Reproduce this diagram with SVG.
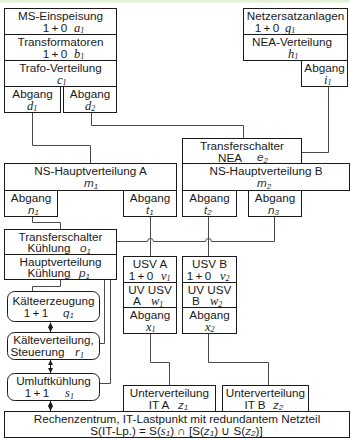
<svg xmlns="http://www.w3.org/2000/svg" width="350" height="439" viewBox="0 0 350 439">
  <style>
    .b { fill: #fff; stroke: #1a1a1a; stroke-width: 1; }
    .r { fill: #fff; stroke: #1a1a1a; stroke-width: 1; }
    .c { fill: none; stroke: #4a4a4a; stroke-width: 1; }
    .a { fill: none; stroke: #1a1a1a; stroke-width: 1; }
    text { font-family: "Liberation Sans", Arial, sans-serif; font-size: 11.7px; fill: #1a1a1a; text-anchor: middle; }
    text.st { text-anchor: start; }
    .n { word-spacing: -1px; }
    .v { font-family: "Liberation Serif", "Times New Roman", serif; font-style: italic; font-size: 12.5px; }
    .vs { font-family: "Liberation Sans", Arial, sans-serif; font-style: italic; font-size: 11.7px; fill: #333; }
    .s { font-size: 8px; font-style: italic; }
  </style>
  <defs>
    <marker id="ah" viewBox="0 0 6 6" refX="6" refY="3" markerWidth="5" markerHeight="5" markerUnits="userSpaceOnUse" orient="auto-start-reverse">
      <path d="M0,0 L6,3 L0,6 z" fill="#1a1a1a"/>
    </marker>
  </defs>

  <!-- top strip -->
  <rect x="0" y="0" width="350" height="2.5" fill="#e2f0d3"/>

  <!-- connectors -->
  <g id="connectors">
    <path class="c" d="M32.5,112.5 V145.5 H90.5 V163.5"/>
    <path class="c" d="M91.5,112.5 V125.5 H243.5 V138.5"/>
    <path class="c" d="M328.5,86.5 V152.5 H301.5"/>
    <path class="c" d="M32.5,216.5 V222.5 H60.5 V229.5"/>
    <path class="c" d="M150.5,216.5 V256.5"/>
    <path class="c" d="M208.5,216.5 V256.5"/>
    <path class="c" d="M274.5,216.5 V241.5 H211.5 A3,3 0 0 0 205.5,241.5 H153.5 A3,3 0 0 0 147.5,241.5 H116.5"/>
    <path class="c" d="M60.5,279.5 V286.5 H32.5 V291.5"/>
    <path class="c" d="M104.5,279.5 V343.5 H99.5"/>
    <path class="c" d="M110.5,279.5 V383.5 H99.5"/>
    <path class="c" d="M150.5,333.5 V362.5 H169.5 V385.5"/>
    <path class="c" d="M208.5,333.5 V362.5 H268.5 V385.5"/>
    <path class="a" d="M50.5,322.5 V332" marker-start="url(#ah)" marker-end="url(#ah)"/>
    <path class="a" d="M50.5,360 V373" marker-start="url(#ah)" marker-end="url(#ah)"/>
    <path class="a" d="M50.5,401 V411" marker-start="url(#ah)" marker-end="url(#ah)"/>
  </g>

  <!-- medium-voltage feed chain -->
  <g id="ms-einspeisung">
    <rect class="b" x="4.5" y="8.5" width="112" height="26"/>
    <text x="60.5" y="19.5">MS-Einspeisung</text>
    <text class="n" x="55" y="31.5">1 + 0</text>
    <text class="st v" x="74" y="31.5">a<tspan class="s" dy="1.5">1</tspan></text>
  </g>
  <g id="transformatoren">
    <rect class="b" x="4.5" y="34.5" width="112" height="26"/>
    <text x="60.5" y="45.5">Transformatoren</text>
    <text class="n" x="55" y="57.5">1 + 0</text>
    <text class="st v" x="74" y="57.5">b<tspan class="s" dy="1.5">1</tspan></text>
  </g>
  <g id="trafo-verteilung">
    <rect class="b" x="4.5" y="60.5" width="112" height="26"/>
    <text x="60.5" y="71.5">Trafo-Verteilung</text>
    <text class="st v" x="57" y="83.5">c<tspan class="s" dy="1.5">1</tspan></text>
  </g>
  <g id="abgang-d1">
    <rect class="b" x="4.5" y="86.5" width="56" height="26"/>
    <text x="32.5" y="97.5">Abgang</text>
    <text class="st v" x="27" y="109.5">d<tspan class="s" dy="1.5">1</tspan></text>
  </g>
  <g id="abgang-d2">
    <rect class="b" x="63.5" y="86.5" width="53" height="26"/>
    <text x="90" y="97.5">Abgang</text>
    <text class="st v" x="85" y="109.5">d<tspan class="s" dy="1.5">2</tspan></text>
  </g>

  <!-- standby generator chain -->
  <g id="netzersatzanlagen">
    <rect class="b" x="243.5" y="8.5" width="104" height="26"/>
    <text x="295.5" y="19.5">Netzersatzanlagen</text>
    <text class="n" x="267" y="31.5">1 + 0</text>
    <text class="st v" x="285" y="31.5">g<tspan class="s" dy="1.5">1</tspan></text>
  </g>
  <g id="nea-verteilung">
    <rect class="b" x="243.5" y="34.5" width="104" height="26"/>
    <text x="292" y="45.5">NEA-Verteilung</text>
    <text class="st v" x="288" y="57.5">h<tspan class="s" dy="1.5">1</tspan></text>
  </g>
  <g id="abgang-i1">
    <rect class="b" x="301.5" y="60.5" width="46" height="26"/>
    <text x="324.5" y="71.5">Abgang</text>
    <text class="st v" x="324" y="83.5">i<tspan class="s" dy="1.5">1</tspan></text>
  </g>
  <g id="transferschalter-nea">
    <rect class="b" x="182.5" y="138.5" width="119" height="25"/>
    <text x="242" y="149.5">Transferschalter</text>
    <text x="230" y="161.5">NEA</text>
    <text class="st vs" x="257" y="161">e<tspan class="s" dy="1.5">2</tspan></text>
  </g>

  <!-- low-voltage main distribution A -->
  <g id="ns-hauptverteilung-a">
    <rect class="b" x="4.5" y="163.5" width="172" height="27"/>
    <text x="90.5" y="175">NS-Hauptverteilung A</text>
    <text class="st vs" x="84" y="187">m<tspan class="s" dy="1.5">1</tspan></text>
  </g>
  <g id="abgang-n1">
    <rect class="b" x="4.5" y="190.5" width="53" height="26"/>
    <text x="31" y="201.5">Abgang</text>
    <text class="st vs" x="28" y="213.5">n<tspan class="s" dy="1.5">1</tspan></text>
  </g>
  <g id="abgang-t1">
    <rect class="b" x="123.5" y="190.5" width="53" height="26"/>
    <text x="150" y="201.5">Abgang</text>
    <text class="st vs" x="146" y="213.5">t<tspan class="s" dy="1.5">1</tspan></text>
  </g>

  <!-- low-voltage main distribution B -->
  <g id="ns-hauptverteilung-b">
    <rect class="b" x="182.5" y="163.5" width="167" height="27"/>
    <text x="266" y="175">NS-Hauptverteilung B</text>
    <text class="st vs" x="257" y="187">m<tspan class="s" dy="1.5">2</tspan></text>
  </g>
  <g id="abgang-t2">
    <rect class="b" x="182.5" y="190.5" width="54" height="26"/>
    <text x="209.5" y="201.5">Abgang</text>
    <text class="st vs" x="204" y="213.5">t<tspan class="s" dy="1.5">2</tspan></text>
  </g>
  <g id="abgang-n3">
    <rect class="b" x="248.5" y="190.5" width="53" height="26"/>
    <text x="275" y="201.5">Abgang</text>
    <text class="st vs" x="268" y="213.5">n<tspan class="s" dy="1.5">3</tspan></text>
  </g>

  <!-- cooling -->
  <g id="transferschalter-kuehlung">
    <rect class="b" x="4.5" y="229.5" width="112" height="25"/>
    <text x="60.5" y="240.5">Transferschalter</text>
    <text x="49" y="252">Kühlung</text>
    <text class="st vs" x="80" y="252">o<tspan class="s" dy="1.5">1</tspan></text>
  </g>
  <g id="hauptverteilung-kuehlung">
    <rect class="b" x="4.5" y="254.5" width="112" height="25"/>
    <text x="60.5" y="265.5">Hauptverteilung</text>
    <text x="49" y="277">Kühlung</text>
    <text class="st vs" x="79" y="277">p<tspan class="s" dy="1.5">1</tspan></text>
  </g>
  <g id="kaelteerzeugung">
    <rect class="r" x="7.5" y="291.5" width="92" height="30" rx="7"/>
    <text x="53.5" y="304.5">Kälteerzeugung</text>
    <text class="n" x="36" y="316.5">1 + 1</text>
    <text class="st vs" x="63" y="316.5">q<tspan class="s" dy="1.5">1</tspan></text>
  </g>
  <g id="kaelteverteilung">
    <rect class="r" x="7.5" y="332.5" width="92" height="27" rx="7"/>
    <text x="53.5" y="344">Kälteverteilung,</text>
    <text x="37.5" y="356">Steuerung</text>
    <text class="st v" x="75" y="356">r<tspan class="s" dy="1.5">1</tspan></text>
  </g>
  <g id="umluftkuehlung">
    <rect class="r" x="7.5" y="373.5" width="92" height="27" rx="7"/>
    <text x="53.5" y="385">Umluftkühlung</text>
    <text class="n" x="37" y="397">1 + 1</text>
    <text class="st v" x="65" y="397">s<tspan class="s" dy="1.5">1</tspan></text>
  </g>

  <!-- UPS A -->
  <g id="usv-a">
    <rect class="b" x="123.5" y="256.5" width="53" height="26"/>
    <text x="150" y="267.5">USV A</text>
    <text class="n" x="141" y="279.5">1 + 0</text>
    <text class="st v" x="161" y="279.5">v<tspan class="s" dy="1.5">1</tspan></text>
  </g>
  <g id="uv-usv-a">
    <rect class="b" x="123.5" y="282.5" width="53" height="25"/>
    <text x="150" y="293.5">UV USV</text>
    <text x="137" y="305">A</text>
    <text class="st v" x="151" y="305">w<tspan class="s" dy="1.5">1</tspan></text>
  </g>
  <g id="abgang-x1">
    <rect class="b" x="123.5" y="307.5" width="53" height="26"/>
    <text x="150" y="319">Abgang</text>
    <text class="st v" x="146" y="330.5">x<tspan class="s" dy="1.5">1</tspan></text>
  </g>

  <!-- UPS B -->
  <g id="usv-b">
    <rect class="b" x="182.5" y="256.5" width="54" height="26"/>
    <text x="209.5" y="267.5">USV B</text>
    <text class="n" x="199" y="279.5">1 + 0</text>
    <text class="st v" x="220" y="279.5">v<tspan class="s" dy="1.5">2</tspan></text>
  </g>
  <g id="uv-usv-b">
    <rect class="b" x="182.5" y="282.5" width="54" height="25"/>
    <text x="209.5" y="293.5">UV USV</text>
    <text x="196" y="305">B</text>
    <text class="st v" x="210" y="305">w<tspan class="s" dy="1.5">2</tspan></text>
  </g>
  <g id="abgang-x2">
    <rect class="b" x="182.5" y="307.5" width="54" height="26"/>
    <text x="209.5" y="319">Abgang</text>
    <text class="st v" x="205" y="330.5">x<tspan class="s" dy="1.5">2</tspan></text>
  </g>

  <!-- IT sub-distributions -->
  <g id="unterverteilung-it-a">
    <rect class="b" x="123.5" y="385.5" width="92" height="26"/>
    <text x="169.5" y="396.5">Unterverteilung</text>
    <text x="159" y="408.5">IT A</text>
    <text class="st vs" x="178" y="408.5">z<tspan class="s" dy="1.5">1</tspan></text>
  </g>
  <g id="unterverteilung-it-b">
    <rect class="b" x="222.5" y="385.5" width="86" height="26"/>
    <text x="265.5" y="396.5">Unterverteilung</text>
    <text x="255" y="408.5">IT B</text>
    <text class="st vs" x="273" y="408.5">z<tspan class="s" dy="1.5">2</tspan></text>
  </g>

  <!-- IT load point -->
  <g id="rechenzentrum">
    <rect class="b" x="4.5" y="411.5" width="345" height="26"/>
    <text x="177" y="422.5">Rechenzentrum, IT-Lastpunkt mit redundantem Netzteil</text>
    <text x="176.5" y="434.5">S(IT-Lp.) = S(<tspan class="v">s</tspan><tspan class="s" dy="1.5">1</tspan><tspan dy="-1.5">) ∩ [S(</tspan><tspan class="vs">z</tspan><tspan class="s" dy="1.5">1</tspan><tspan dy="-1.5">) ∪ S(</tspan><tspan class="vs">z</tspan><tspan class="s" dy="1.5">2</tspan><tspan dy="-1.5">)]</tspan></text>
  </g>
</svg>
